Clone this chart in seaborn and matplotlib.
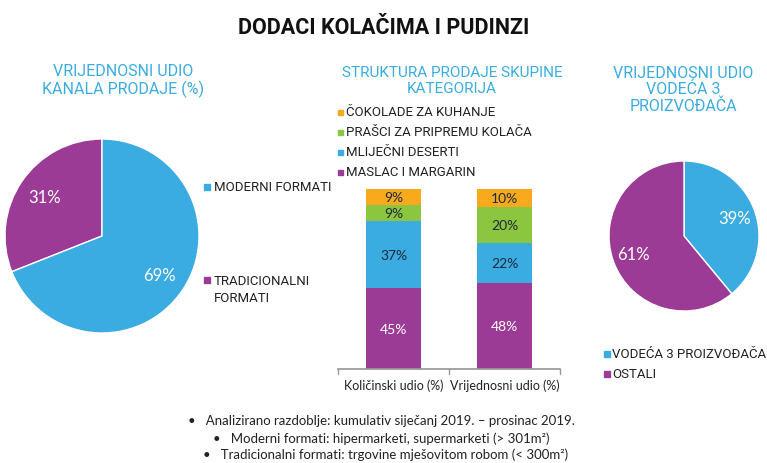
import matplotlib
matplotlib.use("Agg")
import matplotlib.pyplot as plt
import seaborn as sns
import pandas as pd

sns.set_theme(style="white")
plt.rcParams["font.family"] = ["Roboto", "DejaVu Sans"]

# data
channel_labels = ["TRADICIONALNI\nFORMATI", "MODERNI FORMATI"]
channel_values = [31, 69]

bar_cats = ["Količinski udio (%)", "Vrijednosni udio (%)"]
segments = ["MASLAC I MARGARIN", "MLIJEČNI DESERTI", "PRAŠCI ZA PRIPREMU KOLAČA", "ČOKOLADE ZA KUHANJE"]
maslac = [45, 48]
mlijecni = [37, 22]
prasci = [9, 20]
cokolade = [9, 10]

producer_labels = ["VODEĆA 3 PROIZVOĐAČA", "OSTALI"]
producer_values = [39, 61]

notes = [
    "•   Analizirano razdoblje: kumulativ siječanj 2019. – prosinac 2019.",
    "•   Moderni formati: hipermarketi, supermarketi (> 301m²)",
    "•   Tradicionalni formati: trgovine mješovitom robom (< 300m²)",
]

BLUE = "#3AACE1"
PURPLE = "#9C3B96"
GREEN = "#8CC540"
ORANGE = "#F8AA1C"
TITLE_C = "#3AACE1"
seg_colors = [PURPLE, BLUE, GREEN, ORANGE]
LATO = ["Lato", "DejaVu Sans"]

W, H = 767, 464
fig = plt.figure(figsize=(W / 100, H / 100), dpi=100)


def px_axes(cx, cy, r):
    return fig.add_axes([(cx - r) / W, (H - cy - r) / H, 2 * r / W, 2 * r / H])


# title
fig.text(384 / W, 1 - 28 / H, "DODACI KOLAČIMA I PUDINZI", ha="center", va="center",
         fontsize=15.5, fontweight="bold", color="#111111")

# section titles
fig.text(123 / W, 1 - 81 / H, "VRIJEDNOSNI UDIO\nKANALA PRODAJE (%)", ha="center", va="center",
         fontsize=11.5, color=TITLE_C, linespacing=1.1)
fig.text(452 / W, 1 - 81 / H, "STRUKTURA PRODAJE SKUPINE\nKATEGORIJA", ha="center", va="center",
         fontsize=11, color=TITLE_C, linespacing=1.15)
fig.text(683 / W, 1 - 90 / H, "VRIJEDNOSNI UDIO\nVODEĆA 3\nPROIZVOĐAČA", ha="center", va="center",
         fontsize=11.5, color=TITLE_C, linespacing=1.1)

# left pie
ax1 = px_axes(102, 237, 97)
ax1.pie(channel_values, colors=[PURPLE, BLUE], startangle=90, counterclock=True,
        autopct="%d%%", pctdistance=0.72,
        textprops=dict(color="white", fontsize=12, family=LATO))
ax1.set_xlim(-1, 1)
ax1.set_ylim(-1, 1)
ax1.set_axis_off()

fig.patches.append(plt.Rectangle((204 / W, 1 - 191 / H), 6 / W, 6 / H, color=BLUE, transform=fig.transFigure))
fig.text(214 / W, 1 - 188 / H, channel_labels[1], fontsize=9.5, va="center", color="#222222")
fig.patches.append(plt.Rectangle((204 / W, 1 - 284 / H), 6 / W, 6 / H, color=PURPLE, transform=fig.transFigure))
fig.text(214 / W, 1 - 290 / H, channel_labels[0], fontsize=9.5, va="center", color="#222222", linespacing=1.35)

# middle stacked bars
ax2 = fig.add_axes([338 / W, (H - 370) / H, 222 / W, 180 / H])
df = pd.DataFrame({"cat": bar_cats, "m": maslac, "ml": mlijecni, "p": prasci, "c": cokolade})
layers = [df["m"], df["m"] + df["ml"], df["m"] + df["ml"] + df["p"], df["m"] + df["ml"] + df["p"] + df["c"]]
for tot, col in reversed(list(zip(layers, seg_colors))):
    sns.barplot(x=df["cat"], y=tot, color=col, width=0.5, saturation=1, ax=ax2, linewidth=0)
vals = [maslac, mlijecni, prasci, cokolade]
for j, (v, tot) in enumerate(zip(vals, layers)):
    for i in range(len(bar_cats)):
        ax2.text(i, tot[i] - v[i] / 2, f"{v[i]}%", ha="center", va="center",
                 fontsize=10, color="white" if j == 0 else "#1d2a3a", family=LATO)
ax2.set_xlim(-0.5, 1.5)
ax2.set_ylim(0, 100)
ax2.set_xlabel("")
ax2.set_ylabel("")
ax2.set_yticks([])
for s in ["top", "right", "left"]:
    ax2.spines[s].set_visible(False)
ax2.spines["bottom"].set_color("#999999")
ax2.set_xticks([0, 1])
ax2.set_xticklabels(bar_cats, fontsize=9, family=LATO, color="#222222")
ax2.tick_params(axis="x", length=0, pad=7)
for xb in [-0.5, 0.5, 1.5]:
    ax2.plot([xb, xb], [0, -3], color="#999999", lw=1, clip_on=False)

leg_y = [113, 133, 153, 173]
for name, col, y in zip(reversed(segments), reversed(seg_colors), leg_y):
    fig.patches.append(plt.Rectangle((338 / W, 1 - (y + 3) / H), 5 / W, 5 / H, color=col, transform=fig.transFigure))
    fig.text(346 / W, 1 - y / H, name, fontsize=9.5, va="center", color="#222222")

# right pie
ax3 = px_axes(684, 237, 75)
ax3.pie(producer_values, colors=[BLUE, PURPLE], startangle=90, counterclock=False,
        autopct="%d%%", pctdistance=0.72,
        textprops=dict(color="white", fontsize=12, family=LATO))
ax3.set_xlim(-1, 1)
ax3.set_ylim(-1, 1)
ax3.set_axis_off()

for name, col, y in zip(producer_labels, [BLUE, PURPLE], [355, 375]):
    fig.patches.append(plt.Rectangle((604 / W, 1 - (y + 3) / H), 6 / W, 6 / H, color=col, transform=fig.transFigure))
    fig.text(612 / W, 1 - y / H, name, fontsize=9.5, va="center", color="#222222")

# notes
for txt, x, y in zip(notes, [188, 213, 203], [421, 439, 455]):
    fig.text(x / W, 1 - y / H, txt, fontsize=9.5, va="center", color="#222222", family=LATO)

fig.savefig("out.png", dpi=100)
